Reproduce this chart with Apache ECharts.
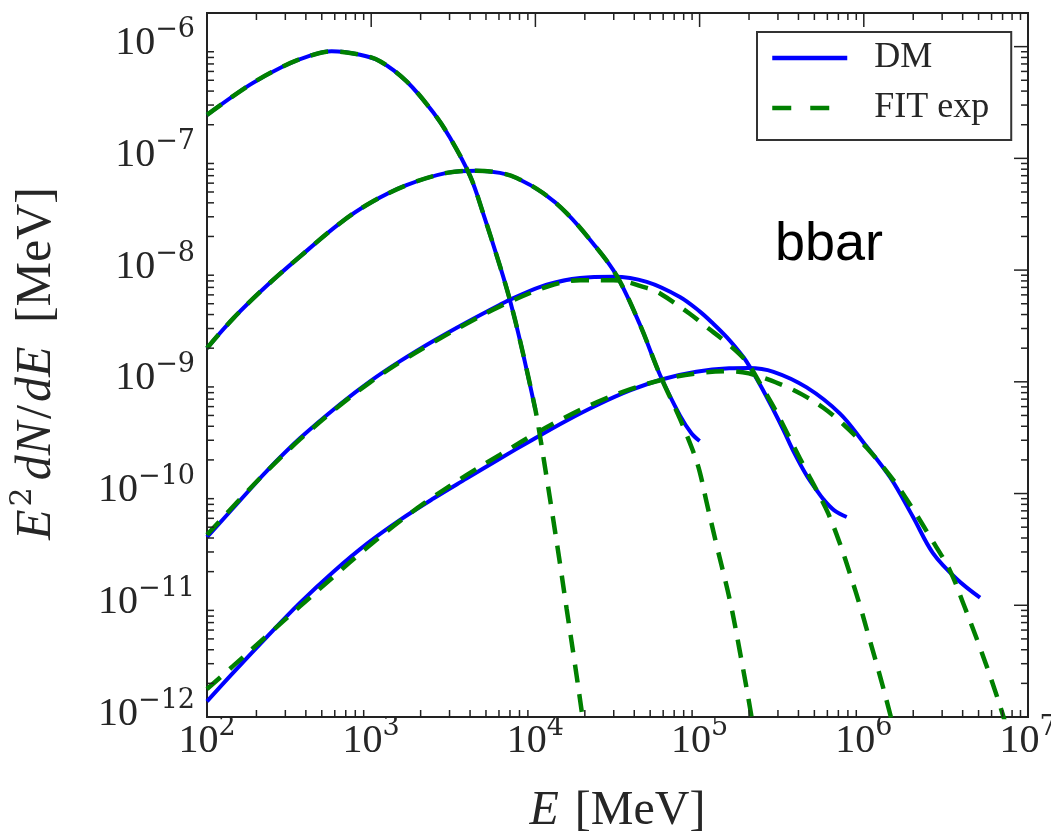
<!DOCTYPE html>
<html><head><meta charset="utf-8">
<script src="https://cdn.jsdelivr.net/npm/echarts@6/dist/echarts.min.js"></script>
<style>html,body{margin:0;padding:0;background:#fff}#c{width:1051px;height:834px}</style>
</head><body><div id="c"></div>
<script>
// ---- data: [E (MeV), E^2 dN/dE (MeV)] ----
const dm1 = [[100,2.45e-7],[183,4.57e-7],[290,6.65e-7],[425,8.30e-7],[574,9.08e-7],[855,8.47e-7],[1130,7.41e-7],[1640,4.90e-7],[2390,2.57e-7],[3020,1.53e-7],[4000,6.97e-8],[4800,3.24e-8],[6080,1.09e-8],[7000,5.38e-9],[8050,2.36e-9],[10000,5.62e-10]];
const fit1 = [[100,2.45e-7],[183,4.57e-7],[290,6.65e-7],[425,8.30e-7],[574,9.08e-7],[855,8.47e-7],[1130,7.41e-7],[1640,4.90e-7],[2390,2.57e-7],[3020,1.53e-7],[4000,6.97e-8],[4800,3.24e-8],[6080,1.09e-8],[7000,5.38e-9],[8050,2.36e-9],[10000,5.62e-10],[10840,2.82e-10],[11720,1.38e-10],[12740,6.31e-11],[14130,2.34e-11],[15490,9.33e-12],[17380,3.02e-12],[19360,1.0e-12],[20420,5.62e-13]];
const dm2 = [[100,2.0e-9],[145,3.72e-9],[231,7.24e-9],[368,1.32e-8],[646,2.63e-8],[984,3.98e-8],[1640,5.75e-8],[2880,7.41e-8],[4370,7.76e-8],[6080,7.41e-8],[7690,6.68e-8],[11120,4.90e-8],[15490,3.24e-8],[22390,1.74e-8],[31260,8.91e-9],[43350,3.24e-9],[57410,1.15e-9],[75860,5.01e-10],[89130,3.47e-10],[100000,2.95e-10]];
const fit2 = [[100,2.0e-9],[145,3.72e-9],[231,7.24e-9],[368,1.32e-8],[646,2.63e-8],[984,3.98e-8],[1640,5.75e-8],[2880,7.41e-8],[4370,7.76e-8],[6080,7.41e-8],[7690,6.68e-8],[11120,4.90e-8],[15490,3.24e-8],[22390,1.74e-8],[31260,8.91e-9],[43350,3.24e-9],[57410,1.15e-9],[75860,4.68e-10],[91200,2.40e-10],[100000,1.58e-10],[110400,8.32e-11],[125900,3.63e-11],[153100,1.10e-11],[176200,3.80e-12],[205600,1.07e-12],[216300,6.3e-13]];
const dm3 = [[100,4.07e-11],[166,9.31e-11],[231,1.59e-10],[368,3.12e-10],[646,6.30e-10],[984,1.01e-9],[1500,1.53e-9],[2390,2.32e-9],[3800,3.40e-9],[6080,4.90e-9],[7350,5.62e-9],[11720,7.41e-9],[18710,8.51e-9],[29850,8.71e-9],[47640,7.85e-9],[75860,5.75e-9],[100000,4.27e-9],[121100,3.31e-9],[146200,2.51e-9],[176200,1.82e-9],[193600,1.51e-9],[234400,9.33e-10],[281200,5.62e-10],[323600,3.72e-10],[372400,2.40e-10],[448700,1.45e-10],[516400,1.07e-10],[566200,8.91e-11],[660700,7.08e-11],[787000,6.17e-11]];
const fit3 = [[100,4.27e-11],[166,9.55e-11],[231,1.58e-10],[368,3.05e-10],[646,6.17e-10],[984,9.89e-10],[1500,1.50e-9],[2390,2.26e-9],[3800,3.31e-9],[6080,4.73e-9],[11720,7.08e-9],[18710,8.13e-9],[29850,8.13e-9],[47640,6.92e-9],[57410,6.17e-9],[87100,4.07e-9],[110400,3.09e-9],[146200,2.24e-9],[193600,1.51e-9],[234400,9.55e-10],[281200,6.03e-10],[323600,4.07e-10],[372400,2.69e-10],[448700,1.58e-10],[516400,1.07e-10],[608100,6.61e-11],[716100,3.55e-11],[824100,1.91e-11],[955000,9.55e-12],[1096000,4.68e-12],[1259000,2.29e-12],[1445000,1.07e-12],[1549000,7.08e-13]];
const dm4 = [[100,1.38e-12],[145,2.51e-12],[231,5.19e-12],[368,1.05e-11],[589,2.0e-11],[940,3.55e-11],[1500,5.82e-11],[2390,9.02e-11],[3800,1.36e-10],[6030,2.04e-10],[9550,3.02e-10],[15140,4.42e-10],[23990,6.24e-10],[38020,8.41e-10],[60260,1.06e-9],[95500,1.23e-9],[151400,1.32e-9],[199500,1.33e-9],[281800,1.23e-9],[448700,8.91e-10],[716100,5.19e-10],[993100,2.88e-10],[1445000,1.40e-10],[1995000,6.17e-11],[2630000,2.95e-11],[3681000,1.72e-11],[5105000,1.17e-11]];
const fit4 = [[100,1.78e-12],[145,2.88e-12],[231,5.31e-12],[368,9.77e-12],[589,1.80e-11],[940,3.27e-11],[1500,5.69e-11],[2390,9.33e-11],[3800,1.46e-10],[6030,2.21e-10],[9550,3.31e-10],[15140,4.79e-10],[23990,6.61e-10],[38020,8.61e-10],[60260,1.05e-9],[95500,1.19e-9],[151400,1.245e-9],[199500,1.19e-9],[309000,9.55e-10],[416900,7.76e-10],[563600,5.89e-10],[749900,4.17e-10],[1042000,2.57e-10],[1514000,1.32e-10],[1995000,7.24e-11],[2512000,4.17e-11],[3350000,2.04e-11],[4074000,1.0e-11],[5105000,4.17e-12],[6026000,2.09e-12],[6998000,1.07e-12],[7413000,7.94e-13]];
const dmSeries = [dm1, dm2, dm3, dm4];
const fitSeries = [fit1, fit2, fit3, fit4];
const xTickExponents = [2, 3, 4, 5, 6, 7];
const yTickExponents = [-12, -11, -10, -9, -8, -7, -6];
const legendNames = ['DM', 'FIT exp'];
const annotation = 'bbar';

const X_MIN = 1e2, X_MAX = 1e7, Y_MIN = 1e-12, Y_MAX = 2e-6;
const TXT = '#262626';
const SERIF = '"Liberation Serif", "Times New Roman", serif';
const SUPF = '"DejaVu Serif", serif';

function expOf(v, list) {
  const l = Math.log10(v), e = Math.round(l);
  if (Math.abs(l - e) > 1e-6 || list.indexOf(e) < 0) return null;
  return e;
}
const labelRich = {
  b: { fontFamily: SERIF, fontSize: 40, color: TXT, verticalAlign: 'bottom', lineHeight: 40 },
  s: { fontFamily: SUPF, fontSize: 27, color: TXT, verticalAlign: 'bottom', lineHeight: 27, padding: [0, 0, 20, 0] }
};
const gridSplit = { show: true, lineStyle: { color: '#b5b5b5', width: 1.5, type: [4, 8] } };

const chart = echarts.init(document.getElementById('c'), null, { renderer: 'canvas' });

function tickRender(params, api) {
  const cs = params.coordSys;
  const x0 = cs.x, x1 = cs.x + cs.width, y0 = cs.y, y1 = cs.y + cs.height;
  const ch = [];
  const st = { stroke: '#222', lineWidth: 1.5 };
  const seg = (a, b, c, d) => ch.push({ type: 'line', shape: { x1: a, y1: b, x2: c, y2: d }, style: st, silent: true });
  const yRef = 1e-9, xRef = 1e3;
  for (let d = xTickExponents[0]; d < xTickExponents[xTickExponents.length - 1]; d++) {
    for (let k = 1; k <= 9; k++) {
      const v = k * Math.pow(10, d);
      const px = api.coord([v, yRef])[0];
      const len = k === 1 ? 14 : 7;
      if (k === 1 && d === xTickExponents[0]) continue;
      seg(px, y0, px, y0 + len);
      if (k !== 1) seg(px, y1, px, y1 - len);
    }
  }
  for (let d = yTickExponents[0]; d < yTickExponents[yTickExponents.length - 1] + 1; d++) {
    for (let k = 1; k <= 9; k++) {
      const v = k * Math.pow(10, d);
      if (v >= Y_MAX || v <= Y_MIN) continue;
      const py = api.coord([xRef, v])[1];
      const len = k === 1 ? 14 : 7;
      seg(x1, py, x1 - len, py);
      if (k !== 1) seg(x0, py, x0 + len, py);
    }
  }
  return { type: 'group', children: ch };
}

const series = [];
dmSeries.forEach((d) => series.push({
  name: legendNames[0], type: 'line', data: d, showSymbol: false, symbol: 'none', smooth: 0.35,
  lineStyle: { color: '#0000ff', width: 4 }, itemStyle: { color: '#0000ff' }, z: 2, silent: true, clip: true
}));
fitSeries.forEach((d) => series.push({
  name: legendNames[1], type: 'line', data: d, showSymbol: false, symbol: 'none', smooth: 0.35,
  lineStyle: { color: '#008000', width: 4.5, type: [18, 12], cap: 'butt' }, itemStyle: { color: '#008000' }, z: 3, silent: true, clip: true
}));
series.push({ type: 'custom', name: 'ticks', coordinateSystem: 'cartesian2d', data: [[1e3, 1e-9]], renderItem: tickRender, z: 4, silent: true });

chart.setOption({
  animation: false,
  backgroundColor: '#fff',
  grid: { left: 207, right: 23, top: 13, bottom: 117, containLabel: false, outerBoundsMode: 'none',
    show: true, borderColor: '#222', borderWidth: 2, backgroundColor: '#fff', z: 1 },
  xAxis: {
    type: 'log', logBase: 10, min: X_MIN, max: X_MAX,
    axisLine: { show: false },
    axisTick: { show: true, inside: true, length: 14, lineStyle: { color: '#222', width: 1.5 } },
    axisLabel: { margin: 4, formatter: (v) => { const e = expOf(v, xTickExponents); return e === null ? '' : '{b|10}{s|' + e + '}'; }, rich: labelRich },
    splitLine: gridSplit,
    name: '{i|E}{r|[MeV]}', nameLocation: 'middle', nameGap: 70,
    nameTextStyle: { rich: { i: { fontFamily: SERIF, fontStyle: 'italic', fontSize: 48, color: TXT, padding: [0, 16, 0, 0] }, r: { fontFamily: SERIF, fontSize: 48, color: TXT } } }
  },
  yAxis: {
    type: 'log', logBase: 10, min: Y_MIN, max: Y_MAX,
    axisLine: { show: false },
    axisTick: { show: true, inside: true, length: 14, lineStyle: { color: '#222', width: 1.5 } },
    axisLabel: { margin: 12, showMaxLabel: false, padding: [0, 0, 6, 0],
      formatter: (v) => { const e = expOf(v, yTickExponents); return e === null ? '' : '{b|10}{s|\u2212' + Math.abs(e) + '}'; }, rich: labelRich },
    splitLine: gridSplit,
    name: '{i|E}{s|2}{i|dN}{r|/}{i|dE}{g| }{r|[MeV]}', nameLocation: 'middle', nameRotate: 90, nameGap: 145,
    nameTextStyle: { rich: {
      i: { fontFamily: SERIF, fontStyle: 'italic', fontSize: 50, color: TXT, verticalAlign: 'bottom', lineHeight: 50, padding: [0, 3, 0, 3] },
      s: { fontFamily: SUPF, fontSize: 30, color: TXT, verticalAlign: 'bottom', lineHeight: 30, padding: [0, 4, 24, 0] },
      g: { fontFamily: SERIF, fontSize: 50, color: TXT, verticalAlign: 'bottom', lineHeight: 50, padding: [0, 4, 0, 4] },
      r: { fontFamily: SERIF, fontSize: 50, color: TXT, verticalAlign: 'bottom', lineHeight: 50 } } }
  },
  legend: {
    data: [{ name: legendNames[0] }, { name: legendNames[1], lineStyle: { type: [19, 19] } }],
    orient: 'vertical', left: 757, top: 32,
    padding: [8, 22, 14, 13], itemWidth: 75, itemHeight: 20, itemGap: 14,
    backgroundColor: '#fff', borderColor: '#333', borderWidth: 2, borderRadius: 0,
    selectedMode: false,
    itemStyle: { opacity: 0, borderWidth: 0 },
    lineStyle: { width: 4.5 },
    textStyle: { fontFamily: SERIF, fontSize: 36, color: TXT, padding: [0, 0, 0, 22] }
  },
  graphic: [{ type: 'text', left: 775, top: 218, z: 10, style: { text: annotation, font: '54px "Liberation Sans", Arial, sans-serif', fill: '#000' } }],
  series
});
</script></body></html>
